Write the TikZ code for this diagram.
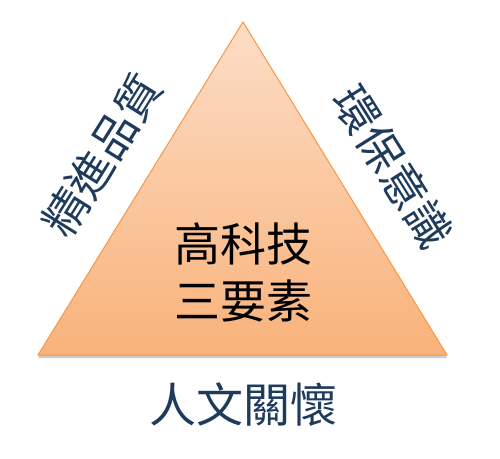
\documentclass[tikz,border=0pt]{standalone}
\usepackage{fontspec}
\newfontfamily\cjk{Noto Sans CJK TC}
\usepackage{tikz}
\usetikzlibrary{shadows}
\definecolor{peachtop}{HTML}{FCDDC6}
\definecolor{peachbot}{HTML}{F9B27A}
\definecolor{peachedge}{HTML}{F79646}
\definecolor{labelblue}{HTML}{1F3B5C}

\begin{document}
\begin{tikzpicture}[x=1pt,y=1pt,
    side/.style={font=\cjk\fontsize{45}{45}\selectfont,text=labelblue,inner sep=0pt},
    core/.style={font=\cjk\fontsize{46}{57}\selectfont,align=center,inner sep=0pt}]
   \useasboundingbox (0,0) rectangle (500,458);
   \coordinate (apex) at (243,436);
   \coordinate (bl) at (38,103);
   \coordinate (br) at (447,103);
   \path[draw=peachedge,line width=1pt,top color=peachtop,bottom color=peachbot,
         drop shadow={shadow xshift=0pt,shadow yshift=-3pt,fill=black!40,opacity=.5}]
      (apex) -- (br) -- (bl) -- cycle;
   \node[core] (tech) at (243,186) {高科技\\三要素};
   \node[side,rotate=58] (quality) at (102,303) {精進品質};
   \node[side,rotate=-58] (eco) at (393,291) {環保意識};
   \node[side,font=\cjk\fontsize{47}{47}\selectfont] (human) at (243,53) {人文關懷};
\end{tikzpicture}
\end{document}
